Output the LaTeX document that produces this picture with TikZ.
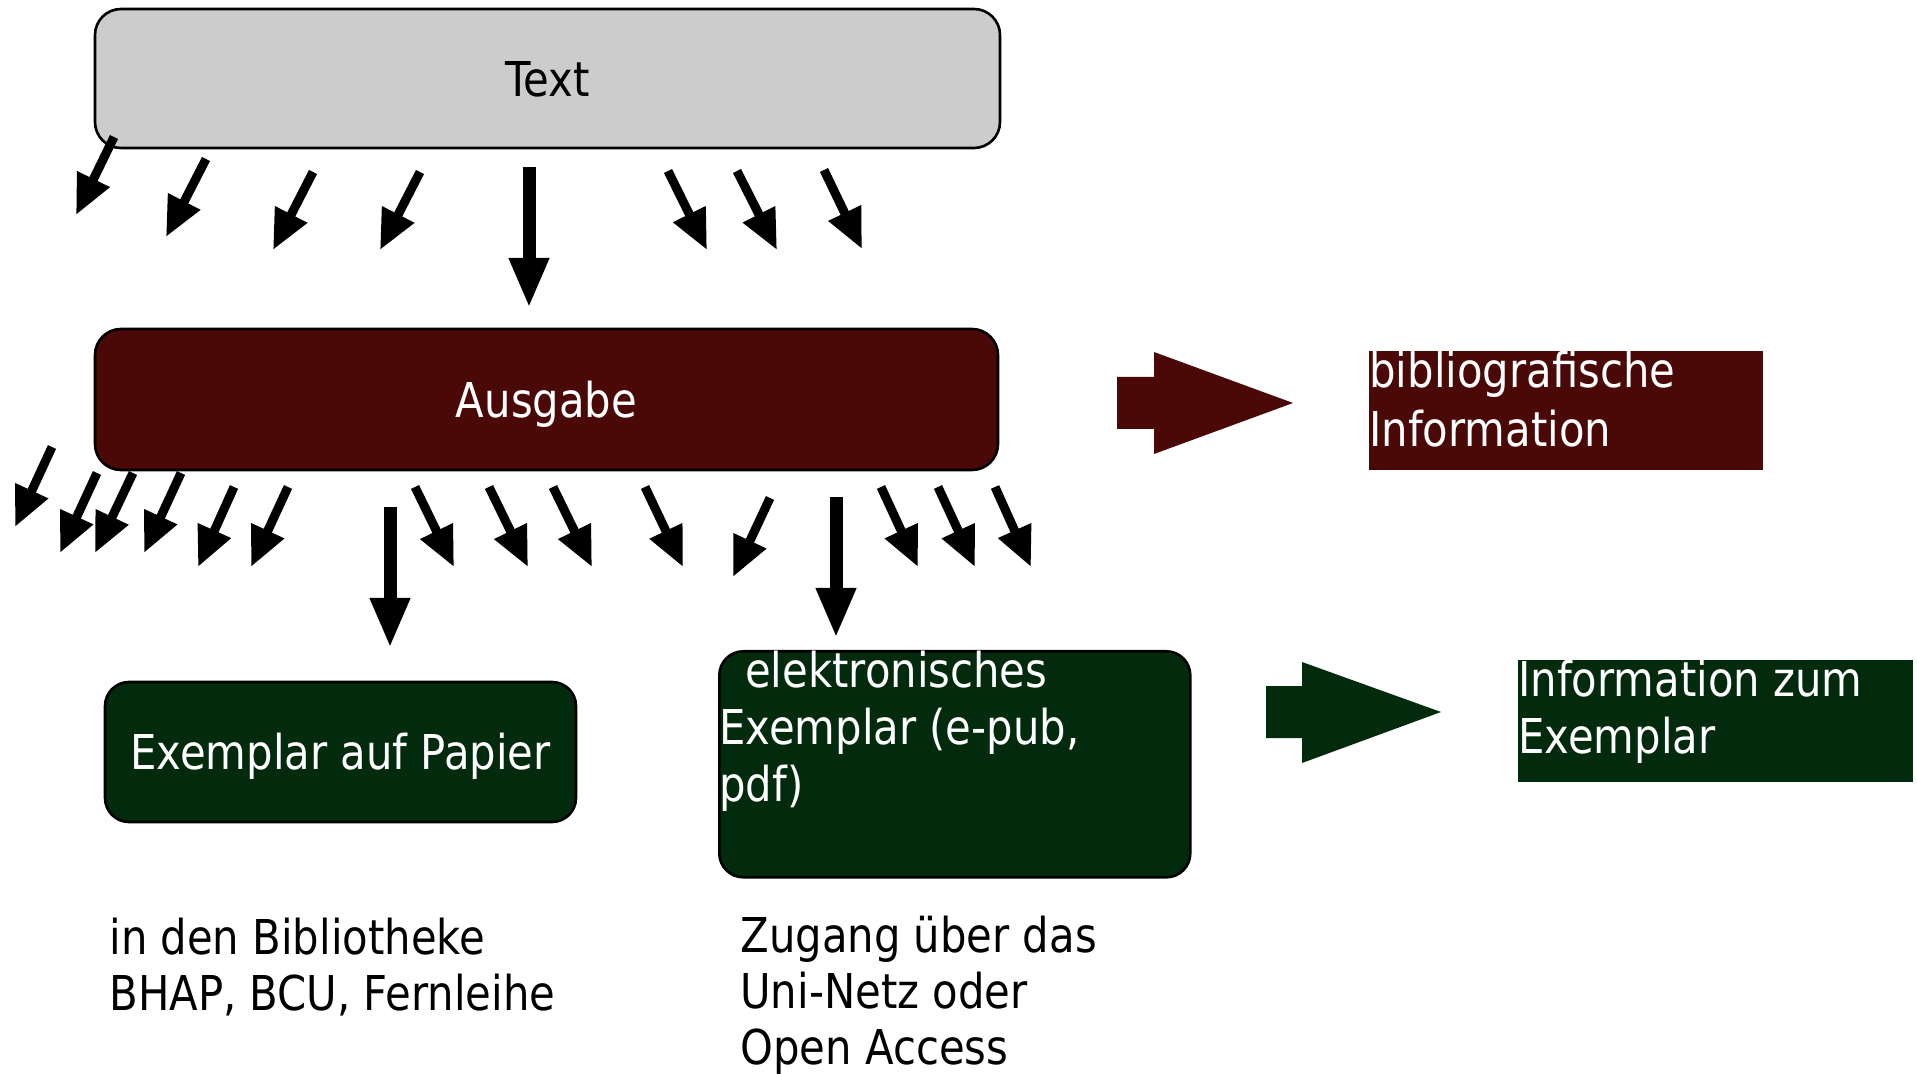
\documentclass[tikz,border=0pt]{standalone}
\usepackage{fontspec}
\setmainfont[FakeStretch=0.87]{DejaVu Sans}
\usetikzlibrary{arrows.meta}
\definecolor{boxgray}{HTML}{CCCCCC}
\definecolor{boxred}{HTML}{4A0806}
\definecolor{boxgreen}{HTML}{022B0E}
\tikzset{
  every node/.style={font=\fontsize{24}{28.5}\selectfont},
  roundbox/.style={draw=black, line width=1.3pt, rounded corners=13pt, inner sep=0pt},
  flatbox/.style={fill=#1, inner sep=0pt, text=white},
  smallarrow/.style={line width=4.5pt, -{Triangle[length=20pt,width=17pt]}},
  bigarrow/.style={line width=6.5pt, -{Triangle[length=25pt,width=18.5pt]}},
  plaintext/.style={anchor=north west, inner sep=0pt, align=left, text=black},
}
\newcommand{\lowtext}[1]{\raisebox{-9pt}[0pt][0pt]{#1}}
\begin{document}
\begin{tikzpicture}[x=0.5pt,y=-0.5pt]
\useasboundingbox (0,0) rectangle (1917,1074);

% main boxes
\node[roundbox, fill=boxgray, minimum width=452.5pt, minimum height=69.5pt] (text) at (547.5,78.5) {\lowtext{Text}};
\node[roundbox, fill=boxred, text=white, minimum width=451.5pt, minimum height=70.5pt] (ausgabe) at (546.5,399.5) {\lowtext{Ausgabe}};
\node[roundbox, fill=boxgreen, text=white, minimum width=235.5pt, minimum height=70pt, rounded corners=12pt] (papier) at (340.5,752) {\lowtext{Exemplar auf Papier}};
\node[roundbox, fill=boxgreen, text=white, anchor=north west, rounded corners=12pt] (elektro) at (718,650)
  {\parbox[t][113pt][t]{235.5pt}{\raggedright\hspace*{13pt}elektronisches\\Exemplar (e-pub,\\pdf)}};

% info boxes
\node[flatbox=boxred, anchor=north west] (bib) at (1369,351)
  {\parbox[t][59.5pt][t]{197pt}{\fontsize{24}{29.5}\selectfont\raggedright bibliografische\\Information}};
\node[flatbox=boxgreen, anchor=north west] (info) at (1518,660)
  {\parbox[t][61pt][t]{197.5pt}{\raggedright Information zum\\Exemplar}};

% block arrows
\fill[boxred] (1117,377) -- (1154,377) -- (1154,352) -- (1293,403) -- (1154,454) -- (1154,429) -- (1117,429) -- cycle;
\fill[boxgreen] (1266,686) -- (1302,686) -- (1302,662) -- (1441,712) -- (1302,763) -- (1302,738) -- (1266,738) -- cycle;

% bottom texts
\node[plaintext, font=\fontsize{24}{28}\selectfont] (bibl) at (109,917.5) {in den Bibliotheke\\BHAP, BCU, Fernleihe};
\node[plaintext, font=\fontsize{24}{28}\selectfont] (zugang) at (740,916) {Zugang über das\\Uni-Netz oder\\Open Access};

% small arrows from Text
\foreach \ax/\ay/\bx/\by in {114/137/76/215, 206/159/166/237, 313/172/273/250, 420/172/380/250,
  668/171/707/250, 737/171/777/250, 824/170/862/249}
  \draw[smallarrow] (\ax,\ay) -- (\bx,\by);
\draw[bigarrow] (529,167) -- (529,308);

% small arrows from Ausgabe
\foreach \ax/\ay/\bx/\by in {52/447/15/527, 97/473/60/553, 133/473/95/553, 181/473/144/553,
  234/487/198/567, 288/487/251/567, 415/487/454/567, 489/487/528/567, 553/487/592/567,
  645/487/683/567, 770/498/733/577, 881/487/918/567, 938/487/975/567, 995/487/1031/567}
  \draw[smallarrow] (\ax,\ay) -- (\bx,\by);
\draw[bigarrow] (390,507) -- (390,648);
\draw[bigarrow] (836,497) -- (836,638);
\end{tikzpicture}
\end{document}
